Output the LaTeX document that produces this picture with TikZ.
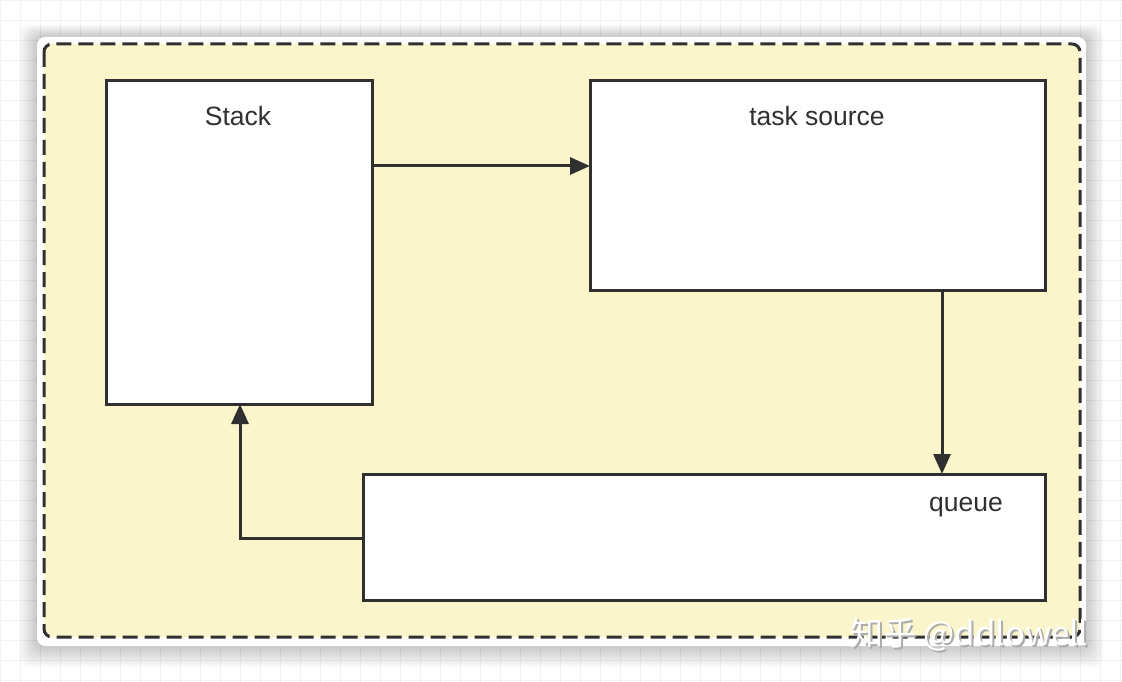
\documentclass[tikz,border=0pt]{standalone}
\usepackage{fontspec}
\setmainfont{Liberation Sans}
\newfontfamily\cjkfont{Noto Sans CJK SC}
\usetikzlibrary{arrows.meta}
\definecolor{paper}{HTML}{FBF5CB}
\definecolor{ink}{HTML}{303030}
\definecolor{gridc}{HTML}{F3F3F3}
\tikzset{
  box/.style={draw=ink,line width=3pt,fill=white},
  lbl/.style={font=\fontsize{26.5}{30}\selectfont,text=ink,inner sep=0pt},
  conn/.style={draw=ink,line width=3pt,-{Triangle[length=20pt,width=17pt]}},
}
\begin{document}
\begin{tikzpicture}[x=1pt,y=-1pt]
\useasboundingbox (0,0) rectangle (1122,682);
\fill[white] (0,0) rectangle (1122,682);
\draw[gridc,line width=0.6pt] (0,0) grid[step=20pt] (1122,682);
% soft shadow of the card
\foreach \i in {1,...,18}{
  \fill[black,opacity=0.013,rounded corners=10pt] (37-\i,37-\i*0.7) rectangle (1086+\i,646+\i*1.2);
}
% outer card
\fill[white,rounded corners=8pt] (37,37) rectangle (1086,646);
% dashed container
\draw[ink,fill=paper,line width=3pt,dash pattern=on 15pt off 7pt,rounded corners=8pt] (44,44) rectangle (1080,637);
% boxes
\draw[box] (106,81) rectangle (372,404);
\node[lbl] (stacklbl) at (238,116) {Stack};
\draw[box] (590,81) rectangle (1045,290);
\node[lbl] (tasklbl) at (817,116) {task source};
\draw[box] (363,474) rectangle (1045,600);
\node[lbl] (queuelbl) at (966,507) {queue};
% connectors
\coordinate (s1) at (372,166);
\coordinate (t1) at (590,166);
\coordinate (t2) at (942,290);
\coordinate (q1) at (942,474);
\coordinate (q2) at (363,538);
\coordinate (s2) at (240,404);
\draw[conn] (s1) -- (t1);
\draw[conn] (t2) -- (q1);
\draw[conn] (q2) -- (240,538) -- (s2);
% watermark
\node[font=\fontsize{33}{36}\selectfont,text=gray!65,inner sep=0pt,anchor=west] (wms) at (852,636) {\cjkfont 知乎 @ddlowell};
\node[font=\fontsize{33}{36}\selectfont,text=white,inner sep=0pt,anchor=west] (wm) at (850,634) {\cjkfont 知乎 @ddlowell};
\end{tikzpicture}
\end{document}
